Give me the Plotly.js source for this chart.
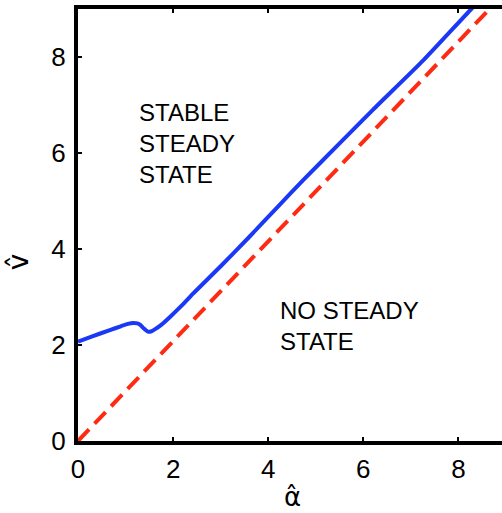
<!DOCTYPE html>
<html>
<head>
<meta charset="utf-8">
<script src="https://cdn.plot.ly/plotly-3.0.1.min.js"></script>
<style>
html,body{margin:0;padding:0;overflow:hidden;background:#fff;width:502px;height:513px;}
#plot{width:508px;height:513px;}
</style>
</head>
<body>
<div id="plot"></div>
<script>
// Stability boundary (blue solid)
const boundaryX = [0, 0.3, 0.67, 0.9, 1.05, 1.16, 1.25, 1.31, 1.38, 1.47, 1.53, 1.59, 1.75, 1.94, 2.2, 2.43, 3.0, 3.6, 4.2, 4.74, 5.5, 6.2, 7.27, 8.27, 8.6];
const boundaryY = [2.07, 2.18, 2.31, 2.39, 2.44, 2.46, 2.45, 2.42, 2.35, 2.28, 2.28, 2.31, 2.42, 2.59, 2.84, 3.08, 3.64, 4.25, 4.88, 5.44, 6.2, 6.9, 7.94, 9.0, 9.33];
// Reference line (red dashed)
const refX = [0, 9];
const refY = [0, 9.36];
const xTicks = [0, 2, 4, 6, 8];
const yTicks = [0, 2, 4, 6, 8];
const labelStable = "STABLE<br>STEADY<br>STATE";
const labelNone = "NO STEADY<br>STATE";
const xTitle = "α\u0302";
const yTitle = "v\u0302";

const font = "Liberation Sans, Arial, Helvetica, sans-serif";
const titleFont = "DejaVu Sans, sans-serif";

const traces = [
  {x: refX, y: refY, mode: 'lines', line: {color: '#ff2a12', width: 4, dash: '16px,8px'}, hoverinfo: 'skip'},
  {x: boundaryX, y: boundaryY, mode: 'lines', line: {color: '#1a38f5', width: 4, shape: 'spline', smoothing: 0.6}, hoverinfo: 'skip'}
];

const axisCommon = {
  showgrid: false, zeroline: false, showline: true, linecolor: '#000', linewidth: 4,
  mirror: 'ticks', ticks: 'inside', ticklen: 4, tickwidth: 2, tickcolor: '#000',
  tickfont: {family: font, size: 26, color: '#000'}
};

const txt = {family: font, size: 24, color: '#000'};

const layout = {
  width: 508, height: 513,
  margin: {l: 78, r: 2, t: 9, b: 72},
  paper_bgcolor: '#fff', plot_bgcolor: '#fff',
  showlegend: false,
  xaxis: Object.assign({}, axisCommon, {range: [0, 9], tickvals: xTicks, ticktext: xTicks.map(String), ticklabelstandoff: 2}),
  yaxis: Object.assign({}, axisCommon, {range: [0, 9], tickvals: yTicks, ticktext: yTicks.map(String), ticklabelstandoff: 3}),
  annotations: [
    {x: 1.25, y: 6.2, xref: 'x', yref: 'y', text: labelStable, showarrow: false, xanchor: 'left', yanchor: 'middle', align: 'left', font: txt},
    {x: 4.2, y: 2.4, xref: 'x', yref: 'y', text: labelNone, showarrow: false, xanchor: 'left', yanchor: 'middle', align: 'left', font: txt},
    {x: 0.5, y: -0.129, xref: 'paper', yref: 'paper', text: xTitle, showarrow: false, xanchor: 'center', yanchor: 'middle', font: {family: titleFont, size: 26, color: '#000'}},
    {x: -0.14, y: 0.414, xref: 'paper', yref: 'paper', text: yTitle, textangle: -90, showarrow: false, xanchor: 'center', yanchor: 'middle', font: {family: titleFont, size: 28, color: '#000'}}
  ]
};

Plotly.newPlot('plot', traces, layout, {displayModeBar: false, staticPlot: true});
</script>
</body>
</html>
